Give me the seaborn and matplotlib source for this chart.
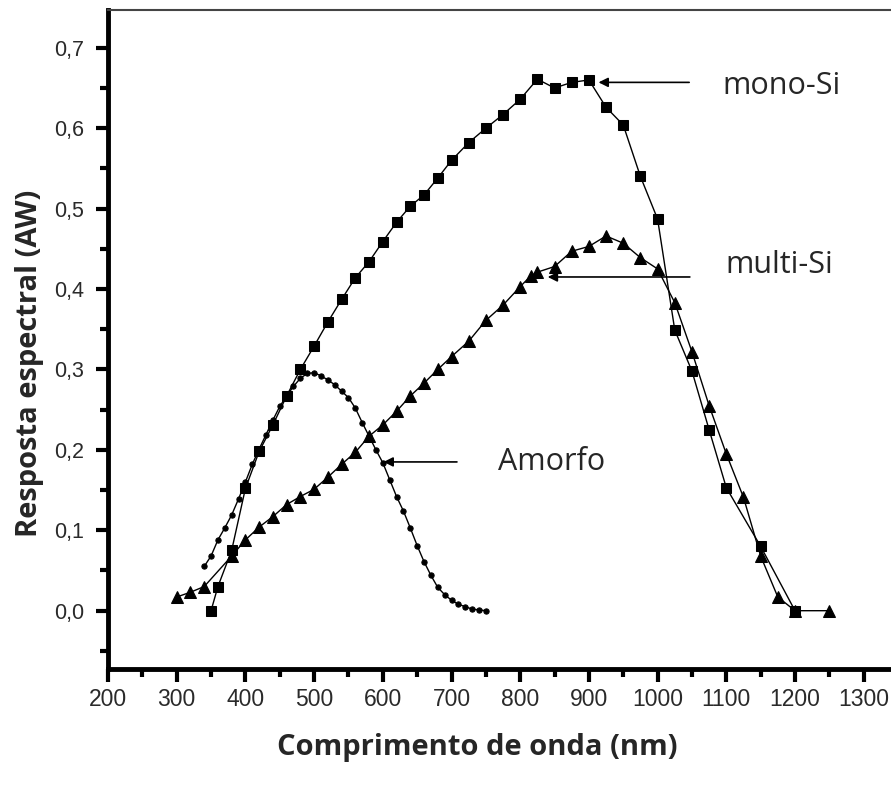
import numpy as np
import pandas as pd
import matplotlib
matplotlib.use("Agg")
import matplotlib.pyplot as plt
import seaborn as sns
from matplotlib.ticker import MultipleLocator, FuncFormatter

# ---- data ----
mono_x = [350, 360, 380, 400, 420, 440, 460, 480, 500, 520, 540, 560, 580, 600,
          620, 640, 660, 680, 700, 725, 750, 775, 800, 825, 850, 875, 900, 925,
          950, 975, 1000, 1025, 1050, 1075, 1100, 1150, 1200]
mono_y = [0.000, 0.030, 0.075, 0.152, 0.198, 0.231, 0.267, 0.300, 0.329, 0.359,
          0.387, 0.414, 0.434, 0.459, 0.483, 0.503, 0.517, 0.538, 0.560, 0.582,
          0.600, 0.617, 0.636, 0.661, 0.650, 0.657, 0.660, 0.626, 0.604, 0.540,
          0.487, 0.349, 0.298, 0.225, 0.153, 0.080, 0.000]

multi_x = [300, 320, 340, 380, 400, 420, 440, 460, 480, 500, 520, 540, 560, 580,
           600, 620, 640, 660, 680, 700, 725, 750, 775, 800, 815, 825, 850, 875,
           900, 925, 950, 975, 1000, 1025, 1050, 1075, 1100, 1125, 1150, 1175,
           1200, 1250]
multi_y = [0.017, 0.023, 0.030, 0.068, 0.088, 0.104, 0.117, 0.132, 0.142, 0.151,
           0.166, 0.182, 0.197, 0.217, 0.231, 0.248, 0.267, 0.283, 0.300, 0.316,
           0.335, 0.361, 0.380, 0.403, 0.416, 0.421, 0.428, 0.447, 0.453, 0.466,
           0.457, 0.439, 0.425, 0.383, 0.322, 0.255, 0.195, 0.141, 0.068, 0.017,
           0.000, 0.000]

amorfo_x = list(range(340, 751, 10))
amorfo_y = [0.055, 0.068, 0.088, 0.103, 0.119, 0.139, 0.160, 0.182, 0.201, 0.219,
            0.237, 0.254, 0.267, 0.279, 0.289, 0.295, 0.296, 0.292, 0.287, 0.281,
            0.273, 0.265, 0.252, 0.234, 0.217, 0.200, 0.184, 0.163, 0.142, 0.124,
            0.103, 0.081, 0.061, 0.044, 0.029, 0.020, 0.013, 0.008, 0.005, 0.002,
            0.001, 0.000]

x_ticks = [200, 300, 400, 500, 600, 700, 800, 900, 1000, 1100, 1200, 1300]
y_ticks = [0.0, 0.1, 0.2, 0.3, 0.4, 0.5, 0.6, 0.7]

# ---- style ----
sns.set_style("white")
plt.rcParams['font.family'] = ['Liberation Sans', 'DejaVu Sans']

fig = plt.figure(figsize=(8.91, 7.87), dpi=100)
ax = fig.add_axes([108 / 891, 1 - 669 / 787, 1 - 108 / 891, (669 - 10) / 787])

sns.lineplot(x=mono_x, y=mono_y, ax=ax, color='black', marker='s', markersize=7.5,
             markeredgecolor='black', linewidth=1.0, sort=False)
sns.lineplot(x=multi_x, y=multi_y, ax=ax, color='black', marker='^', markersize=8,
             markeredgecolor='black', linewidth=1.0, sort=False)
sns.lineplot(x=amorfo_x, y=amorfo_y, ax=ax, color='black', marker='o', markersize=3.8,
             markeredgecolor='black', linewidth=1.0, sort=False)

ax.set_xlim(200, 200 + (891 - 108) / 0.687)
ax.set_ylim(-0.0725, 0.747)

ax.set_xticks(x_ticks)
ax.xaxis.set_minor_locator(MultipleLocator(50))
ax.set_yticks(y_ticks)
ax.yaxis.set_minor_locator(MultipleLocator(0.05))
ax.yaxis.set_major_formatter(FuncFormatter(lambda v, p: f"{v:.1f}".replace('.', ',')))

ax.tick_params(axis='both', which='major', direction='out', length=9, width=3,
               color='black', labelcolor='#2a2a2a', bottom=True, left=True)
ax.tick_params(axis='both', which='minor', direction='out', length=5.5, width=3,
               color='black', bottom=True, left=True)
ax.tick_params(axis='x', which='major', pad=5, labelsize=16.5)
ax.tick_params(axis='y', which='major', pad=8, labelsize=15.5)

for s in ['left', 'bottom']:
    ax.spines[s].set_linewidth(3.5)
    ax.spines[s].set_color('black')
ax.spines['top'].set_linewidth(1.5)
ax.spines['top'].set_color('#444444')
ax.spines['right'].set_visible(False)

label_font = ['Open Sans', 'DejaVu Sans']
ax.set_xlabel("Comprimento de onda (nm)", fontsize=21, fontweight='bold', family=label_font)
ax.set_ylabel("Resposta espectral (AW)", fontsize=21, fontweight='bold', family=label_font)
ax.xaxis.set_label_coords(0.471, -0.097)
ax.yaxis.set_label_coords(-0.082, 0.464)

ann_font = ['Open Sans', 'DejaVu Sans']
arrowprops = dict(arrowstyle='-|>', color='black', lw=1.2, mutation_scale=14)
ax.annotate("", xy=(910, 0.657), xytext=(1050, 0.657), arrowprops=arrowprops)
ax.annotate("", xy=(836, 0.415), xytext=(1051, 0.415), arrowprops=arrowprops)
ax.annotate("", xy=(597, 0.185), xytext=(712, 0.185), arrowprops=arrowprops)
ax.text(1094, 0.652, "mono-Si", fontsize=22, family=ann_font, va='center', ha='left')
ax.text(1098, 0.430, "multi-Si", fontsize=22, family=ann_font, va='center', ha='left')
ax.text(768, 0.185, "Amorfo", fontsize=22, family=ann_font, va='center', ha='left')

fig.savefig("out.png", dpi=100)
